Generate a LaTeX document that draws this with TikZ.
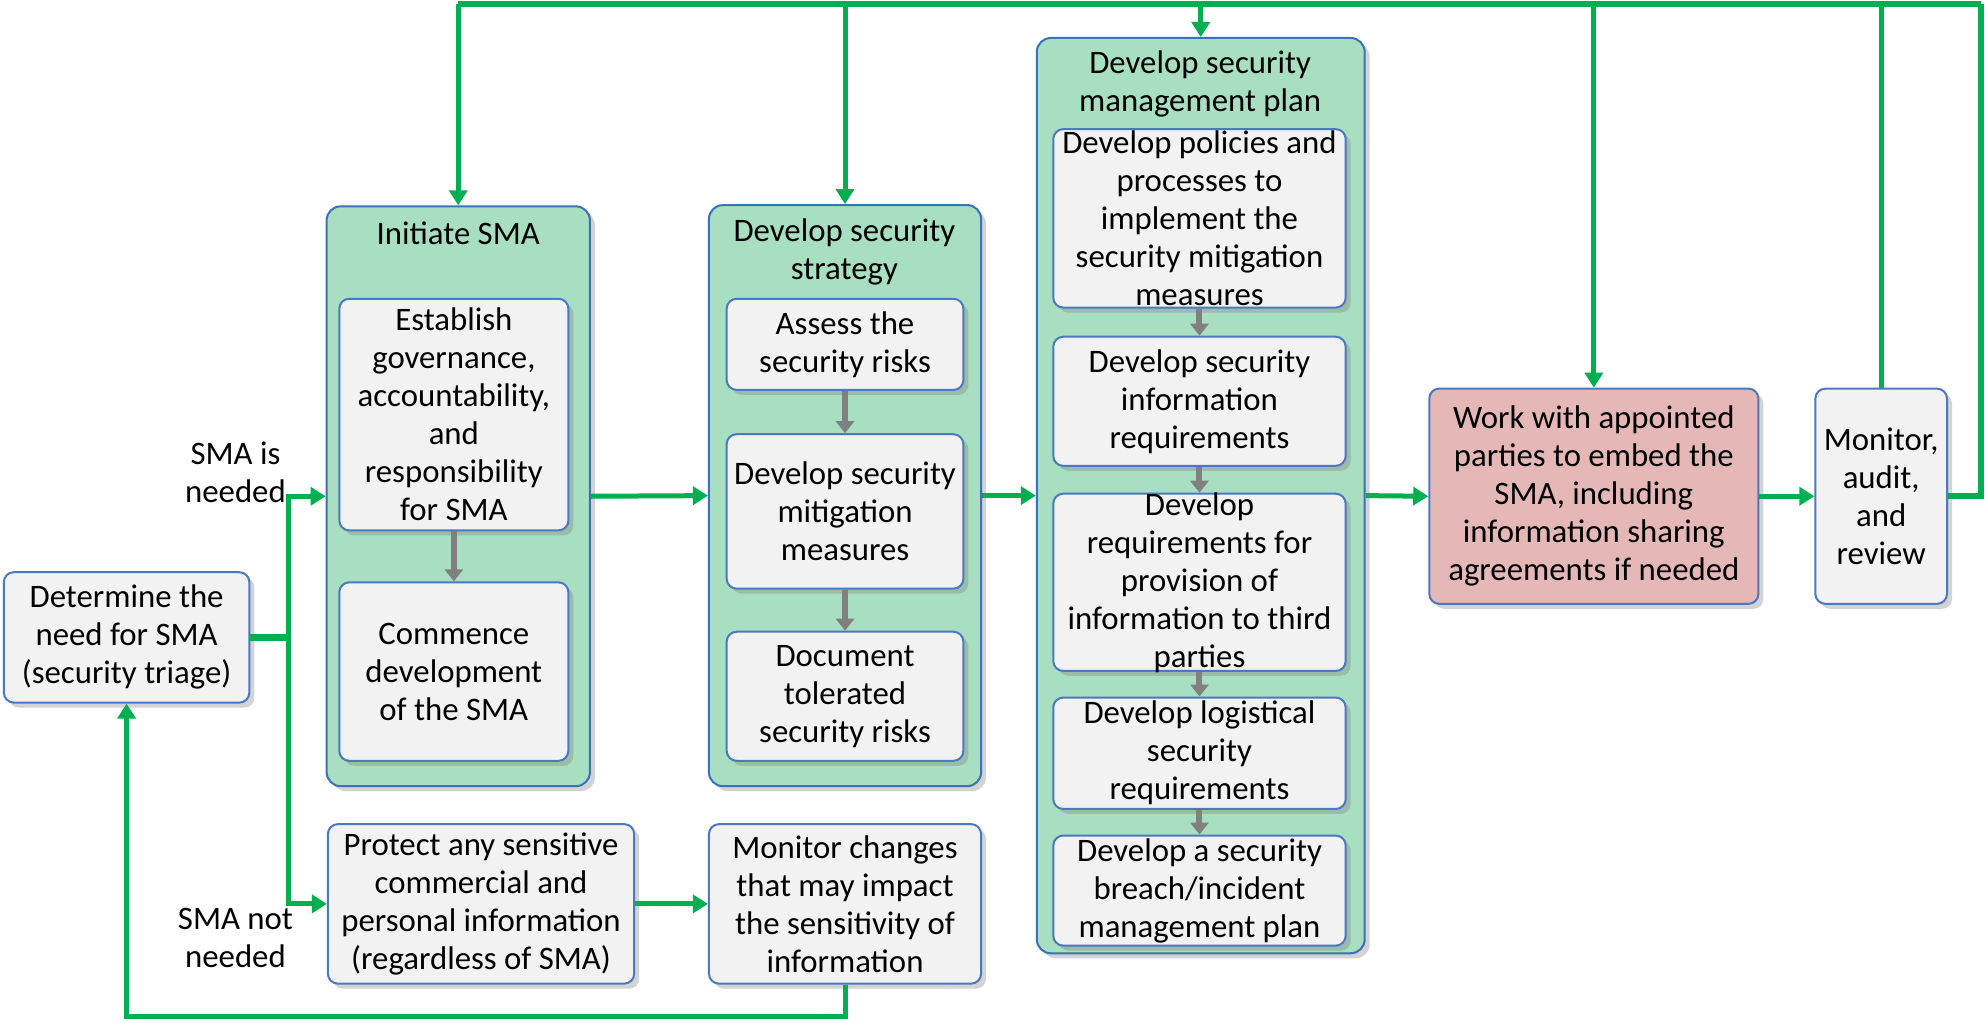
\documentclass[tikz,border=0pt]{standalone}
\usepackage{fontspec}
\setmainfont{Carlito}
\usetikzlibrary{fit,arrows.meta,shadows}

\definecolor{flowgreen}{HTML}{00B050}
\definecolor{stagefill}{HTML}{A8DFC0}
\definecolor{stageline}{HTML}{3A70BE}
\definecolor{boxfill}{HTML}{F2F2F2}
\definecolor{boxline}{HTML}{4A78C4}
\definecolor{embedfill}{HTML}{E5B8B7}
\definecolor{steparrow}{HTML}{808080}

\tikzset{
  shade/.style={drop shadow={opacity=0.35,shadow xshift=2.5pt,shadow yshift=-2.5pt}},
  stage/.style={draw=stageline,line width=1pt,fill=stagefill,rounded corners=7pt,inner sep=0pt,shade},
  leaf/.style={draw=boxline,line width=1pt,fill=boxfill,rounded corners=5pt,inner sep=0pt,shade},
  embed/.style={leaf,fill=embedfill},
  txt/.style={align=center,inner sep=0pt,font=\fontsize{16.4}{19}\selectfont},
  flow/.style={draw=flowgreen,line width=2.5pt},
  flowarrow/.style={flow,-{Triangle[width=9pt,length=7.5pt]}},
  inner/.style={draw=steparrow,line width=3pt,-{Triangle[width=9pt,length=6pt]}},
}

% box from two corners, with its text centred on it
\newcommand\flowbox[5]{%
  \node[#1, fit={#3 #4}] (#2) {};
  \node[txt] (#2-t) at (#2.center) {#5};}

\begin{document}
\begin{tikzpicture}[x=0.633pt,y=-0.633pt]
\useasboundingbox (0,0) rectangle (1568,808);

% triage and the branch that needs no SMA
\flowbox{leaf}{det}{(3,452)}{(197,555)}{Determine the\\need for SMA\\(security triage)}
\flowbox{leaf}{prot}{(259,651)}{(501,777)}{Protect any sensitive\\commercial and\\personal information\\(regardless of SMA)}
\flowbox{leaf}{mchg}{(560,651)}{(775,777)}{Monitor changes\\that may impact\\the sensitivity of\\information}

% stage: initiate SMA
\node[stage, fit={(258,163) (466,621)}] (init) {};
\node[txt] (init-t) at (362,184) {Initiate SMA};
\flowbox{leaf}{est}{(268,236)}{(449,419)}{Establish\\governance,\\accountability,\\and\\responsibility\\for SMA}
\flowbox{leaf}{com}{(268,460)}{(449,601)}{Commence\\development\\of the SMA}

% stage: security strategy
\node[stage, fit={(560,162) (775,621)}] (strat) {};
\node[txt] (strat-t) at (667,199) {Develop security\\strategy};
\flowbox{leaf}{risk}{(574,236)}{(761,308)}{Assess the\\security risks}
\flowbox{leaf}{mit}{(574,343)}{(761,465)}{Develop security\\mitigation\\measures}
\flowbox{leaf}{tol}{(574,499)}{(761,601)}{Document\\tolerated\\security risks}

% stage: security management plan
\node[stage, fit={(819,30) (1078,753)}] (plan) {};
\node[txt] (plan-t) at (948,66) {Develop security\\management plan};
\flowbox{leaf}{pol}{(832,102)}{(1063,243)}{Develop policies and\\processes to\\implement the\\security mitigation\\measures}
\flowbox{leaf}{inf}{(832,266)}{(1063,368)}{Develop security\\information\\requirements}
\flowbox{leaf}{third}{(832,390)}{(1063,530)}{Develop\\requirements for\\provision of\\information to third\\parties}
\flowbox{leaf}{logi}{(832,551)}{(1063,639)}{Develop logistical\\security\\requirements}
\flowbox{leaf}{breach}{(832,660)}{(1063,747)}{Develop a security\\breach/incident\\management plan}

% embedding and review
\flowbox{embed}{work}{(1129,307)}{(1389,477)}{Work with appointed\\parties to embed the\\SMA, including\\information sharing\\agreements if needed}
\flowbox{leaf}{mon}{(1434,307)}{(1538,477)}{Monitor,\\audit,\\and\\review}

% decision labels
\node[txt] (yes) at (186,373) {SMA is\\needed};
\node[txt] (no) at (186,741) {SMA not\\needed};

% steps inside the stages
\draw[inner] (est) -- (com);
\draw[inner] (risk) -- (mit);
\draw[inner] (mit) -- (tol);
\draw[inner] (pol) -- (inf);
\draw[inner] (inf) -- (third);
\draw[inner] (third) -- (logi);
\draw[inner] (logi) -- (breach);

% main flow
\coordinate (split) at (228,503.5);
\draw[flow,line width=3.2pt] (det.east) -- (split);
\draw[flowarrow] (split) |- (init.west);
\draw[flowarrow] (split) |- (prot.west);
\draw[flowarrow] (init.east) -- (strat.west);
\draw[flowarrow] (strat.east) -- (plan.west);
\draw[flowarrow] (plan.east) -- (work.west);
\draw[flowarrow] (work.east) -- (mon.west);
\draw[flowarrow] (prot.east) -- (mchg.west);
\draw[flowarrow] (mchg.south) -- ++(0,25) -| (det.south);

% review feeds back to every stage
\coordinate (topR) at (1565,3);
\coordinate (topL) at (362,3);
\draw[flow,line width=3.2pt] (mon.east) -| (topR);
\draw[flow,line width=3pt] (topR) -- (topL);
\draw[flow] (mon.north) -- (mon.north |- topL);
\draw[flowarrow] (topL) -- (init.north);
\draw[flowarrow] (strat.north |- topL) -- (strat.north);
\draw[flowarrow] (plan.north |- topL) -- (plan.north);
\draw[flowarrow] (work.north |- topL) -- (work.north);
\end{tikzpicture}
\end{document}
